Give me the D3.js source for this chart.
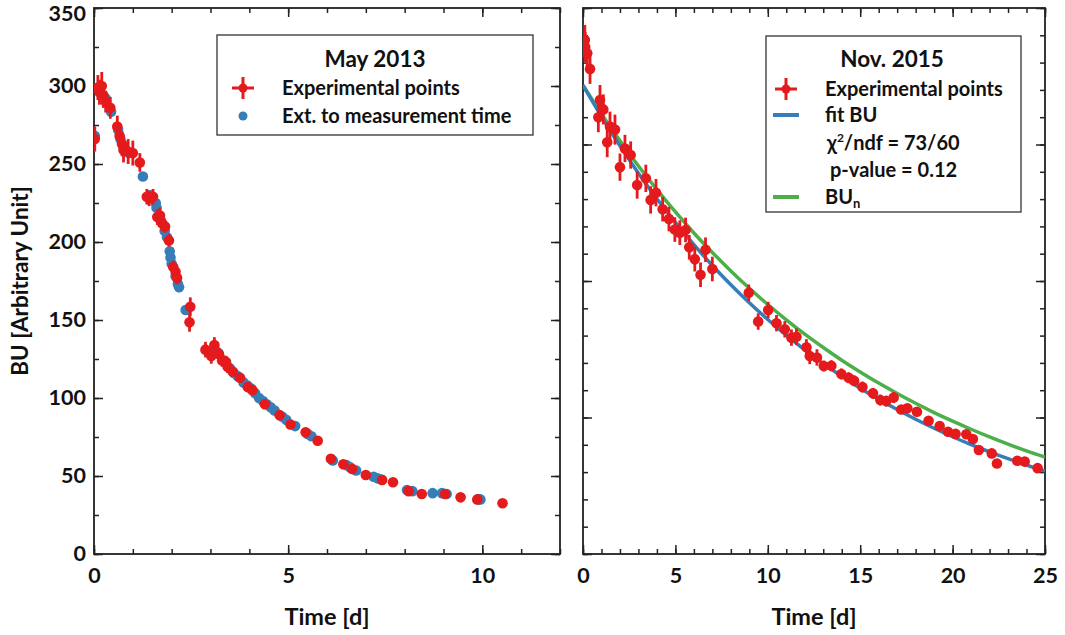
<!DOCTYPE html>
<html><head><meta charset="utf-8">
<script src="https://cdn.jsdelivr.net/npm/d3@7"></script>
<style>
body{margin:0;background:#fff;}
text{font-family:Lato,"Open Sans",sans-serif;font-weight:bold;fill:#111;}
</style></head><body>
<svg id="c" width="1065" height="635"></svg>
<script>
// ---------- DATA ----------
// May 2013 experimental points
const mayTime = [0.02,0.10,0.14,0.20,0.24,0.30,0.42,0.60,0.66,0.72,0.76,0.88,1.00,1.18,1.36,1.42,1.52,1.63,1.70,1.75,1.83,1.93,2.04,2.10,2.14,2.48,2.46,2.87,3.02,3.10,3.22,3.30,3.40,3.44,3.57,3.76,3.96,4.08,4.40,4.78,5.06,5.45,5.76,6.10,6.42,6.65,7.00,7.42,7.70,8.10,8.44,9.04,9.44,9.87,10.52];
const mayBU   = [266,299,296,300,294,290,286,274,268,263,259,258,257,251,229,228,229,216,217,212,210,201,184,181,177,158.5,148.5,131,127,134,128,124,123,120,117,113,107,105,96,89,83,78,72.6,61,57.5,54.5,50.6,47.4,46,40.3,38.5,38.5,36.3,35,32.5];
const mayErr  = [8,8,8,9,8,7,7,7,8,8,8,8,8,6,5,5,5,5,5,5,4,4,4,4,4,6,6,5,5,5,4,4,4,4,3,2,2,2,1,1,1,1,1,1,1,1,1,1,1,1,1,1,1,1,1];
// May 2013 extrapolated to measurement time
const mayExtTime = [0.02,0.30,0.44,0.62,0.68,0.90,1.26,1.45,1.59,1.61,1.72,1.82,1.88,1.95,1.97,2.00,2.10,2.16,2.19,2.36,3.10,3.20,3.35,3.50,3.60,3.70,3.85,3.95,4.05,4.15,4.25,4.35,4.45,4.55,4.65,4.85,4.95,5.18,5.50,5.60,6.15,6.50,6.60,6.75,7.20,7.30,7.40,8.06,8.20,8.72,8.96,9.08,9.90,9.95];
const mayExtBU   = [268,292,283.5,272,266,257,242,230,225,222,214,207,203,194,190,186,178,173,171,156.4,132,129,124,119,116,114,110,108,106,103,100,98,96,94,92,88,86,82,77,75.5,60,57,55.5,53.5,49.5,48.5,47.8,41,40.3,39,39,38.5,35,35];
// Nov 2015 experimental points
const novTime = [0.10,0.12,0.23,0.38,0.83,0.92,1.10,1.31,1.46,1.73,2.00,2.27,2.58,2.93,3.40,3.66,3.95,4.31,4.65,4.97,5.24,5.55,5.75,6.05,6.36,6.63,7.00,8.97,9.48,10.02,10.47,10.92,11.28,11.55,12.09,12.27,12.66,13.03,13.44,13.98,14.38,14.67,15.12,15.69,16.09,16.41,16.81,17.22,17.55,18.07,18.70,19.30,19.75,20.16,20.74,21.10,21.42,22.12,22.40,23.50,23.90,24.60];
const novBU   = [376.6,371.4,366.9,355.4,320,332.6,325.7,301.7,313.1,310.9,283.4,297.1,292.3,270.3,275.2,259.4,264.7,252.6,245.4,237.7,235.4,237.4,224.7,216,204.6,222.9,208.8,191.4,170.3,178.7,169.1,164.6,158.5,159.2,151.4,145.1,144,137.7,137.9,131.9,129.1,126.9,122.3,117.7,112.8,112,114.7,105.9,106.7,104.2,97.6,93.7,89.6,88,87.7,84.2,76.2,73.7,66.3,68.3,67.7,62.9];
const novErr  = [11,11,11,11,11,11,11,11,11,11,10,10,10,10,10,10,10,9,9,9,9,9,9,9,9,9,9,6,6,6,6,6,6,6,6,6,6,4,4,4,4,4,4,4,4,4,4,2,2,2,2,2,2,2,2,2,2,2,2,2,2,2];
// Fit curves (read at each day)
const fitTime = [0,1,2,3,4,5,6,7,8,9,10,11,12,13,14,15,16,17,18,19,20,21,22,23,24,25];
const fitBU   = [343.4,320.5,299.0,279.0,260.3,242.9,226.6,211.4,197.3,184.1,171.8,160.3,149.5,139.5,130.2,121.5,113.3,105.8,98.7,92.1,85.9,80.1,74.8,69.8,65.1,60.7];
const bunBU   = [343.4,322.4,302.7,284.2,266.9,250.6,235.2,220.9,207.4,194.7,182.8,171.6,161.1,151.3,142.0,133.4,125.2,117.6,110.4,103.6,97.3,91.4,85.8,80.5,75.6,71.0];
// Tick labels
const leftXLabels  = [0,5,10];
const leftYLabels  = [0,50,100,150,200,250,300,350];
const rightXLabels = [0,5,10,15,20,25];

// ---------- DRAW ----------
const RED="#e41a1c", BLUE="#377eb8", GREEN="#4daf4a";
const svg = d3.select("#c");
const yTop=8, yBot=554;
const L = {x0:94, x1:560}, R = {x0:583, x1:1045};
const xL = d3.scaleLinear().domain([0,12]).range([L.x0,L.x1]);
const yL = d3.scaleLinear().domain([0,350]).range([yBot,yTop]);
const xR = d3.scaleLinear().domain([0,25]).range([R.x0,R.x1]);
const yR = d3.scaleLinear().domain([0,400]).range([yBot,yTop]);

function ticksAxis(g, axisFn, scale, vals, len, labels, pad){
  const ax = axisFn(scale).tickValues(vals).tickSizeInner(-len).tickSizeOuter(0).tickPadding(pad||8);
  if(!labels) ax.tickFormat("");
  const s = g.append("g").call(ax);
  s.select(".domain").remove();
  s.selectAll(".tick line").attr("stroke","#222").attr("stroke-width",1.5);
  s.selectAll(".tick text").style("font-size","21.5px").style("font-family","Lato, sans-serif").style("font-weight","bold").attr("fill","#111");
  return s;
}
function frame(x, y, xMinor, xMajor, yMinor, yMajor, xLab, yLab){
  const [a,b]=x.range(), [c,d]=y.range();
  ticksAxis(svg.append("g").attr("transform",`translate(0,${c})`), d3.axisBottom, x, xMinor, 5, false);
  const xb = ticksAxis(svg.append("g").attr("transform",`translate(0,${c})`), d3.axisBottom, x, xMajor, 9, !!xLab, 14);
  ticksAxis(svg.append("g").attr("transform",`translate(0,${d})`), d3.axisTop, x, xMinor, 5, false);
  ticksAxis(svg.append("g").attr("transform",`translate(0,${d})`), d3.axisTop, x, xMajor, 9, false);
  ticksAxis(svg.append("g").attr("transform",`translate(${a},0)`), d3.axisLeft, y, yMinor, 5, false);
  const yl = ticksAxis(svg.append("g").attr("transform",`translate(${a},0)`), d3.axisLeft, y, yMajor, 9, !!yLab, 8);
  ticksAxis(svg.append("g").attr("transform",`translate(${b},0)`), d3.axisRight, y, yMinor, 5, false);
  ticksAxis(svg.append("g").attr("transform",`translate(${b},0)`), d3.axisRight, y, yMajor, 9, false);
  svg.append("rect").attr("x",a).attr("y",d).attr("width",b-a).attr("height",c-d)
    .attr("fill","none").attr("stroke","#222").attr("stroke-width",1.8);
  return {xb, yl};
}
const lf = frame(xL, yL, d3.range(0,13,1), leftXLabels, d3.range(0,351,25), leftYLabels, true, true);
lf.yl.selectAll(".tick text").filter(d=>d===350).attr("dy","0.6em");
frame(xR, yR, d3.range(0,26,1), rightXLabels, d3.range(0,401,20), d3.range(0,401,100), true, false);

// clip paths
const defs = svg.append("defs");
defs.append("clipPath").attr("id","clipL").append("rect").attr("x",L.x0).attr("y",yTop).attr("width",L.x1-L.x0).attr("height",yBot-yTop);
defs.append("clipPath").attr("id","clipR").append("rect").attr("x",R.x0).attr("y",yTop).attr("width",R.x1-R.x0).attr("height",yBot-yTop);

// Left panel marks
const gL = svg.append("g").attr("clip-path","url(#clipL)");
gL.selectAll("circle.ext").data(mayExtTime.map((t,i)=>({t,v:mayExtBU[i]}))).join("circle")
  .attr("class","ext").attr("cx",d=>xL(d.t)).attr("cy",d=>yL(d.v)).attr("r",5.3).attr("fill",BLUE);
const mayPts = mayTime.map((t,i)=>({t,v:mayBU[i],e:mayErr[i]}));
gL.selectAll("line.ey").data(mayPts).join("line").attr("class","ey")
  .attr("x1",d=>xL(d.t)).attr("x2",d=>xL(d.t)).attr("y1",d=>yL(d.v-d.e)).attr("y2",d=>yL(d.v+d.e))
  .attr("stroke",RED).attr("stroke-width",2.8);
gL.selectAll("line.ex").data(mayPts).join("line").attr("class","ex")
  .attr("x1",d=>xL(d.t-0.08)).attr("x2",d=>xL(d.t+0.08)).attr("y1",d=>yL(d.v)).attr("y2",d=>yL(d.v))
  .attr("stroke",RED).attr("stroke-width",2.8);
gL.selectAll("circle.exp").data(mayPts).join("circle").attr("class","exp")
  .attr("cx",d=>xL(d.t)).attr("cy",d=>yL(d.v)).attr("r",5.3).attr("fill",RED);

// Right panel marks
const gR = svg.append("g").attr("clip-path","url(#clipR)");
const line = (ys)=>d3.line().x((d,i)=>xR(fitTime[i])).y(d=>yR(d)).curve(d3.curveMonotoneX)(ys);
gR.append("path").attr("d",line(bunBU)).attr("fill","none").attr("stroke",GREEN).attr("stroke-width",3.5);
gR.append("path").attr("d",line(fitBU)).attr("fill","none").attr("stroke",BLUE).attr("stroke-width",3.5);
const novPts = novTime.map((t,i)=>({t,v:novBU[i],e:novErr[i]}));
gR.selectAll("line.ey").data(novPts).join("line").attr("class","ey")
  .attr("x1",d=>xR(d.t)).attr("x2",d=>xR(d.t)).attr("y1",d=>yR(d.v-d.e)).attr("y2",d=>yR(d.v+d.e))
  .attr("stroke",RED).attr("stroke-width",2.8);
gR.selectAll("circle.exp").data(novPts).join("circle").attr("class","exp")
  .attr("cx",d=>xR(d.t)).attr("cy",d=>yR(d.v)).attr("r",5.3).attr("fill",RED);

// Axis titles
svg.append("text").attr("x",(L.x0+L.x1)/2).attr("y",625).attr("text-anchor","middle").style("font-size","23.5px").text("Time [d]");
svg.append("text").attr("x",(R.x0+R.x1)/2).attr("y",625).attr("text-anchor","middle").style("font-size","23.5px").text("Time [d]");
svg.append("text").attr("transform",`translate(28,${(yTop+yBot)/2}) rotate(-90)`).attr("text-anchor","middle").style("font-size","22.5px").text("BU [Arbitrary Unit]");

// Legends
function cross(cx,cy){
  svg.append("line").attr("x1",cx-11).attr("x2",cx+11).attr("y1",cy).attr("y2",cy).attr("stroke",RED).attr("stroke-width",3);
  svg.append("line").attr("x1",cx).attr("x2",cx).attr("y1",cy-11).attr("y2",cy+11).attr("stroke",RED).attr("stroke-width",3);
  svg.append("circle").attr("cx",cx).attr("cy",cy).attr("r",4.5).attr("fill",RED);
}
svg.append("rect").attr("x",217).attr("y",35).attr("width",316).attr("height",100).attr("fill","#fff").attr("stroke","#333").attr("stroke-width",1.3);
svg.append("text").attr("x",375).attr("y",67).attr("text-anchor","middle").style("font-size","22.5px").text("May 2013");
cross(243,88);
svg.append("text").attr("x",282).attr("y",95).style("font-size","20px").text("Experimental points");
svg.append("circle").attr("cx",243).attr("cy",116).attr("r",4.5).attr("fill",BLUE);
svg.append("text").attr("x",282).attr("y",123).style("font-size","20px").text("Ext. to measurement time");
svg.append("rect").attr("x",766).attr("y",36).attr("width",255).attr("height",176).attr("fill","#fff").attr("stroke","#333").attr("stroke-width",1.3);
svg.append("text").attr("x",892).attr("y",67).attr("text-anchor","middle").style("font-size","22.5px").text("Nov. 2015");
cross(786,89);
svg.append("text").attr("x",825).attr("y",96).style("font-size","20px").text("Experimental points");
svg.append("line").attr("x1",773).attr("x2",799).attr("y1",115).attr("y2",115).attr("stroke",BLUE).attr("stroke-width",4);
svg.append("text").attr("x",825).attr("y",122).style("font-size","20px").text("fit BU");
const chi = svg.append("text").attr("x",827).attr("y",150).style("font-size","20px");
chi.append("tspan").text("χ");
chi.append("tspan").attr("dy",-8).style("font-size","12px").text("2");
chi.append("tspan").attr("dy",8).text("/ndf = 73/60");
svg.append("text").attr("x",830).attr("y",177).style("font-size","20px").text("p-value = 0.12");
svg.append("line").attr("x1",773).attr("x2",799).attr("y1",197).attr("y2",197).attr("stroke",GREEN).attr("stroke-width",4);
const bun = svg.append("text").attr("x",825).attr("y",204).style("font-size","20px");
bun.append("tspan").text("BU");
bun.append("tspan").attr("dy",4).style("font-size","13px").text("n");
</script>
</body></html>
